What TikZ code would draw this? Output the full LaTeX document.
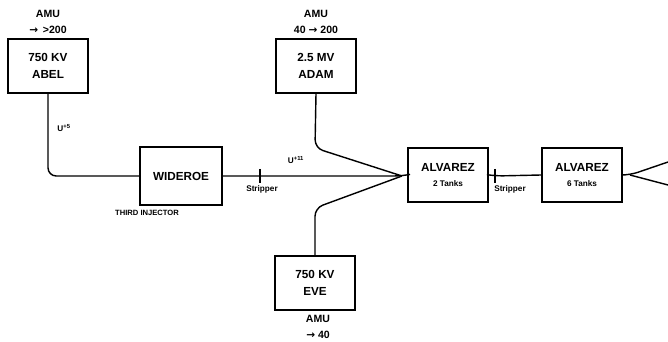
\documentclass[tikz,border=0pt]{standalone}
\usepackage{fontspec}
\setmainfont{Liberation Sans}
\newfontfamily\arrowfont{DejaVu Sans}
\newcommand{\amuarrow}{{\arrowfont\bfseries →}}
\usetikzlibrary{positioning}

\begin{document}
\begin{tikzpicture}[x=0.03cm, y=-0.03cm,
  box/.style = {draw, line width=1.6pt, minimum width=2.4cm, minimum height=1.6cm, align=center, font=\fontsize{10}{15}\selectfont\bfseries},
  beam/.style = {line width=1.2pt, rounded corners=7pt},
  amu/.style = {align=center, font=\fontsize{9}{13}\selectfont\bfseries},
  small/.style = {font=\fontsize{7}{8}\selectfont\bfseries}]
  \useasboundingbox (0,0) rectangle (668,342);

  \node[box] (abel) at (48,66) {750 KV\\ABEL};
  \node[box] (adam) at (316,66) {2.5 MV\\ADAM};
  \node[box] (eve) at (315,283) {750 KV\\EVE};
  \node[box, minimum width=2.46cm, minimum height=1.74cm] (wideroe) at (181,176) {WIDEROE};
  \node[box] (alv1) at (448,175) {ALVAREZ\\[-2pt]{\fontsize{7}{8}\selectfont 2 Tanks}};
  \node[box] (alv2) at (582,175) {ALVAREZ\\[-2pt]{\fontsize{7}{8}\selectfont 6 Tanks}};

  \node[amu] (abelamu) at (48,22) {AMU\\\amuarrow\ \,>200};
  \node[amu] (adamamu) at (316,22) {AMU\\40 \amuarrow\ 200};
  \node[amu] (eveamu) at (318,327) {AMU\\\amuarrow\ 40};

  \node[small] (uplus5) at (64,128) {U\textsuperscript{+5}};
  \node[small] (uplus11) at (296,160) {U\textsuperscript{+11}};
  \node[small, font=\fontsize{6.5}{8}\selectfont\bfseries] (third) at (147,213) {THIRD INJECTOR};

  % beam lines
  \coordinate (strip1) at (260,176);
  \coordinate (strip2) at (495,176);
  \coordinate (join) at (402,176);
  \coordinate (adambend) at (315,148);
  \coordinate (evebend) at (315,208);
  \coordinate (fan) at (630,175);
  \coordinate (out1) at (668,162);
  \coordinate (out2) at (668,185);

  \draw[beam] (abel.south) |- (wideroe.west);
  \draw[beam] (wideroe.east) -- (strip1) -- (join) -- (alv1.west);
  \draw[beam] (adam.south) -- (adambend) -- (join);
  \draw[beam] (eve.north) -- (evebend) -- (join);
  \draw[beam] (alv1.east) -- (strip2) -- (alv2.west);
  \draw[beam] (alv2.east) -- (fan) -- (out1);
  \draw[beam] (fan) -- (out2);

  % strippers
  \draw[line width=1.2pt] (strip1) ++(0,-7) -- ++(0,14);
  \draw[line width=1.2pt] (strip2) ++(0,-7) -- ++(0,14);
  \node[small] (stripper1) at (262,189) {Stripper};
  \node[small] (stripper2) at (510,189) {Stripper};
\end{tikzpicture}
\end{document}
